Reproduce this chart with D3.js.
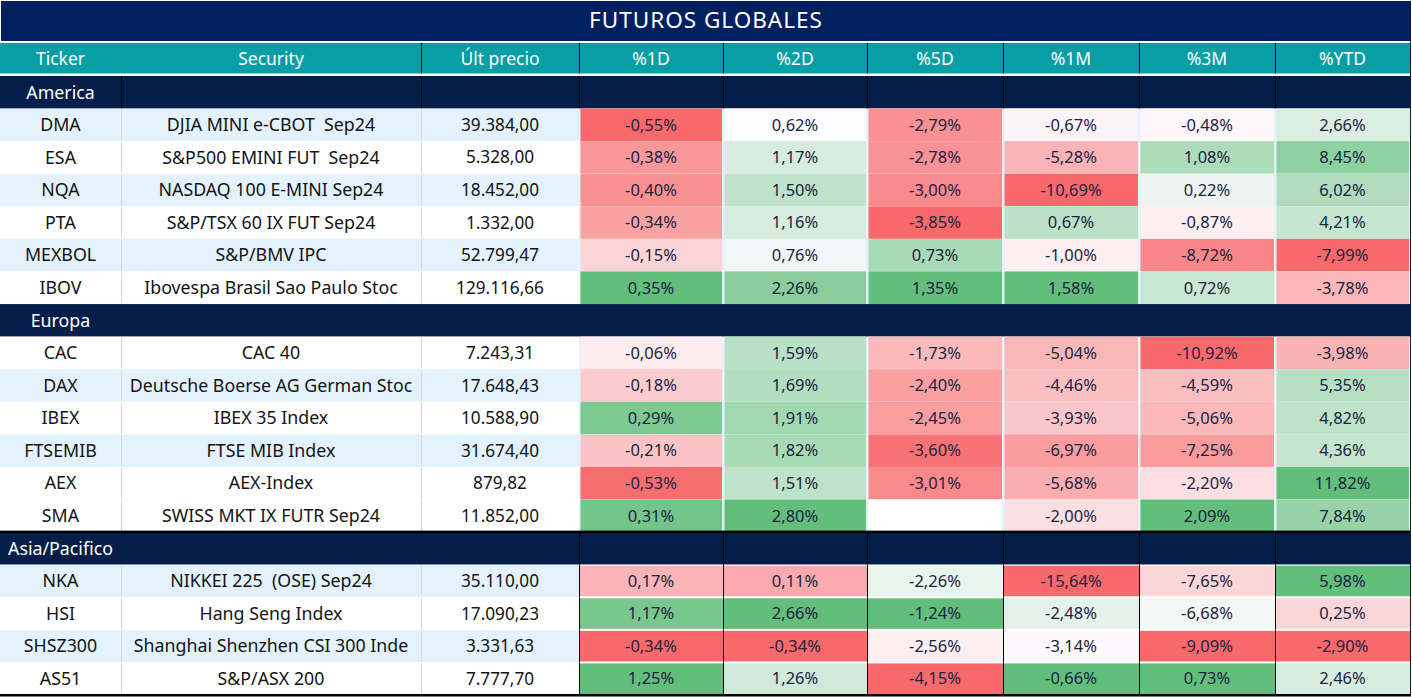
<!DOCTYPE html>
<html><head><meta charset="utf-8">
<script src="https://cdn.jsdelivr.net/npm/d3@7"></script>
<style>body{margin:0;background:#fff}svg{display:block}text{white-space:pre}</style>
</head><body>
<svg id="chart" width="1412" height="697"></svg>
<script>
// ---------------- DATA ----------------
const title = "FUTUROS GLOBALES";
const columnLabels = ["Ticker", "Security", "Últ precio", "%1D", "%2D", "%5D", "%1M", "%3M", "%YTD"];
const regions = ["America", "Europa", "Asia/Pacifico"];
const regionOfRow = ["America","America","America","America","America","America",
  "Europa","Europa","Europa","Europa","Europa","Europa",
  "Asia/Pacifico","Asia/Pacifico","Asia/Pacifico","Asia/Pacifico"];
const tickers = ["DMA","ESA","NQA","PTA","MEXBOL","IBOV","CAC","DAX","IBEX","FTSEMIB","AEX","SMA","NKA","HSI","SHSZ300","AS51"];
const securities = ["DJIA MINI e-CBOT  Sep24","S&P500 EMINI FUT  Sep24","NASDAQ 100 E-MINI Sep24","S&P/TSX 60 IX FUT Sep24",
  "S&P/BMV IPC","Ibovespa Brasil Sao Paulo Stoc","CAC 40","Deutsche Boerse AG German Stoc","IBEX 35 Index","FTSE MIB Index",
  "AEX-Index","SWISS MKT IX FUTR Sep24","NIKKEI 225  (OSE) Sep24","Hang Seng Index","Shanghai Shenzhen CSI 300 Inde","S&P/ASX 200"];
const lastPrice = [39384.00, 5328.00, 18452.00, 1332.00, 52799.47, 129116.66, 7243.31, 17648.43, 10588.90, 31674.40,
  879.82, 11852.00, 35110.00, 17090.23, 3331.63, 7777.70];
const chg1D  = [-0.55,-0.38,-0.40,-0.34,-0.15,0.35, -0.06,-0.18,0.29,-0.21,-0.53,0.31, 0.17,1.17,-0.34,1.25];
const chg2D  = [0.62,1.17,1.50,1.16,0.76,2.26, 1.59,1.69,1.91,1.82,1.51,2.80, 0.11,2.66,-0.34,1.26];
const chg5D  = [-2.79,-2.78,-3.00,-3.85,0.73,1.35, -1.73,-2.40,-2.45,-3.60,-3.01,null, -2.26,-1.24,-2.56,-4.15];
const chg1M  = [-0.67,-5.28,-10.69,0.67,-1.00,1.58, -5.04,-4.46,-3.93,-6.97,-5.68,-2.00, -15.64,-2.48,-3.14,-0.66];
const chg3M  = [-0.48,1.08,0.22,-0.87,-8.72,0.72, -10.92,-4.59,-5.06,-7.25,-2.20,2.09, -7.65,-6.68,-9.09,0.73];
const chgYTD = [2.66,8.45,6.02,4.21,-7.99,-3.78, -3.98,5.35,4.82,4.36,11.82,7.84, 5.98,0.25,-2.90,2.46];
const changeSeries = [chg1D, chg2D, chg5D, chg1M, chg3M, chgYTD];

// ---------------- LAYOUT / STYLE ----------------
const W = 1412, H = 697;
const colX = [0, 121, 421, 579, 723, 867, 1003, 1139, 1275, 1410];
const FONT = "'Noto Sans', sans-serif";
const NAVY_TITLE = "#002060", NAVY_SECTION = "#041e49", TEAL = "#079ea6", STRIPE = "#e3f2fd";
const RED = "#f8696b", MID = "#fcfcff", GREEN = "#63be7b";
const FS_TEXT = 17.8, FS_PCT = 16.5, FS_HEAD = 17.5;
const shadedRows = new Set(["DMA","NQA","MEXBOL","DAX","FTSEMIB","NKA","SHSZ300"]);
// conditional-format groups: America+Europe share a scale with midpoint at 0; Asia uses the 50th percentile
const scaleGroupOf = {"America": "AmEu", "Europa": "AmEu", "Asia/Pacifico": "Asia"};

const esLocale = d3.formatLocale({decimal: ",", thousands: ".", grouping: [3], currency: ["", ""], minus: "-"});
const fmtPrice = esLocale.format(",.2f");
const fmtPct = v => esLocale.format(".2f")(v) + "%";

// build row list (section headers + data rows)
const rows = [];
regions.forEach(r => {
  rows.push({type: "section", label: r});
  tickers.forEach((t, i) => { if (regionOfRow[i] === r) rows.push({type: "data", i, region: r}); });
});

const y = d3.scaleBand().domain(d3.range(rows.length)).range([76, 695]);

// colour scales per group and column
const colorScales = {};
["AmEu", "Asia"].forEach(g => {
  colorScales[g] = changeSeries.map(series => {
    const vals = series.filter((v, i) => v != null && scaleGroupOf[regionOfRow[i]] === g);
    const mn = d3.min(vals), mx = d3.max(vals);
    let mid = g === "AmEu" ? Math.max(mn, Math.min(mx, 0)) : d3.quantile(vals.slice().sort(d3.ascending), 0.5);
    if (mid <= mn) return d3.scaleLinear().domain([mn, mx]).range([MID, GREEN]).interpolate(d3.interpolateRgb);
    if (mid >= mx) return d3.scaleLinear().domain([mn, mx]).range([RED, MID]).interpolate(d3.interpolateRgb);
    return d3.scaleLinear().domain([mn, mid, mx]).range([RED, MID, GREEN]).interpolate(d3.interpolateRgb);
  });
});

const svg = d3.select("#chart");
svg.append("rect").attr("width", W).attr("height", H).attr("fill", "#fff");

// title
svg.append("rect").attr("x", 1).attr("y", 1).attr("width", colX[9] - 1).attr("height", 40).attr("fill", NAVY_TITLE);
svg.append("text").attr("x", 706).attr("y", 20.5).attr("dy", "0.35em").attr("text-anchor", "middle")
  .attr("fill", "#fff").attr("font-family", FONT).attr("font-size", 22.5).attr("letter-spacing", 1).text(title);

// column header
svg.append("rect").attr("x", 0).attr("y", 43).attr("width", colX[9]).attr("height", 30.5).attr("fill", TEAL);
columnLabels.forEach((lab, c) => {
  svg.append("text").attr("x", (colX[c] + colX[c + 1]) / 2).attr("y", 58.5).attr("dy", "0.35em")
    .attr("text-anchor", "middle").attr("fill", "#fff").attr("font-family", FONT).attr("font-size", FS_HEAD).text(lab);
  if (c >= 2) svg.append("line").attr("x1", colX[c] + 0.5).attr("x2", colX[c] + 0.5).attr("y1", 43).attr("y2", 73.5)
    .attr("stroke", "#000").attr("stroke-width", 1);
});

// rows
rows.forEach((row, k) => {
  const y0 = y(k), h = y.bandwidth();
  if (row.type === "section") {
    svg.append("rect").attr("x", 0).attr("y", y0).attr("width", colX[9]).attr("height", h).attr("fill", NAVY_SECTION);
    svg.append("text").attr("x", (colX[0] + colX[1]) / 2).attr("y", y0 + h / 2).attr("dy", "0.35em")
      .attr("text-anchor", "middle").attr("fill", "#fff").attr("font-family", FONT).attr("font-size", FS_TEXT).text(row.label);
    let seps = [];
    if (row.label === "America") seps = colX.slice(1, 9);
    if (row.label === "Asia/Pacifico") seps = colX.slice(3, 9);
    seps.forEach(x => svg.append("line").attr("x1", x + 0.5).attr("x2", x + 0.5).attr("y1", y0).attr("y2", y0 + h)
      .attr("stroke", "#000").attr("stroke-width", 1));
    if (row.label === "Asia/Pacifico")
      svg.append("rect").attr("x", 0).attr("y", y0 - 1.5).attr("width", colX[9]).attr("height", 2.5).attr("fill", "#000");
    return;
  }
  const i = row.i;
  const isAsia = scaleGroupOf[row.region] === "Asia";
  // row background
  svg.append("rect").attr("x", 0).attr("y", y0).attr("width", colX[3]).attr("height", h)
    .attr("fill", shadedRows.has(tickers[i]) ? STRIPE : "#fff");
  svg.append("rect").attr("x", colX[3]).attr("y", y0).attr("width", colX[9] - colX[3]).attr("height", h)
    .attr("fill", isAsia ? "#fff" : STRIPE);
  // light separators in the text columns
  [colX[1], colX[2]].forEach(x => svg.append("line").attr("x1", x + 0.5).attr("x2", x + 0.5)
    .attr("y1", y0 + 1).attr("y2", y0 + h - 1).attr("stroke", "#d9d9d9").attr("stroke-width", 1.2));
  const texts = [tickers[i], securities[i], fmtPrice(lastPrice[i])];
  texts.forEach((t, c) => svg.append("text").attr("x", (colX[c] + colX[c + 1]) / 2).attr("y", y0 + h / 2).attr("dy", "0.35em")
    .attr("text-anchor", "middle").attr("fill", "#141414").attr("font-family", FONT)
    .attr("font-size", c === 2 ? 17.2 : FS_TEXT).text(t));
  // heat cells
  changeSeries.forEach((series, j) => {
    const c = j + 3, v = series[i];
    const fill = v == null ? "#ffffff" : colorScales[scaleGroupOf[row.region]][j](v);
    if (isAsia) {
      svg.append("rect").attr("x", colX[c] + 1).attr("y", y0 + 1).attr("width", colX[c + 1] - colX[c] - 1)
        .attr("height", h - 2).attr("fill", fill);
      svg.append("line").attr("x1", colX[c] + 0.5).attr("x2", colX[c] + 0.5).attr("y1", y0).attr("y2", y0 + h)
        .attr("stroke", "#000").attr("stroke-width", 1);
    } else {
      svg.append("rect").attr("x", colX[c] + 1.5).attr("y", y0).attr("width", colX[c + 1] - colX[c] - 2.5)
        .attr("height", h).attr("fill", fill);
    }
    if (v != null)
      svg.append("text").attr("x", (colX[c] + colX[c + 1]) / 2).attr("y", y0 + h / 2).attr("dy", "0.35em")
        .attr("text-anchor", "middle").attr("fill", "#1b2440").attr("font-family", FONT).attr("font-size", FS_PCT).text(fmtPct(v));
  });
});

// outer borders
svg.append("line").attr("x1", colX[9] + 0.5).attr("x2", colX[9] + 0.5).attr("y1", 1).attr("y2", 696)
  .attr("stroke", "#1a1a1a").attr("stroke-width", 1);
svg.append("rect").attr("x", 0).attr("y", 694).attr("width", colX[9] + 1).attr("height", 2.5).attr("fill", "#000");
</script>
</body></html>
